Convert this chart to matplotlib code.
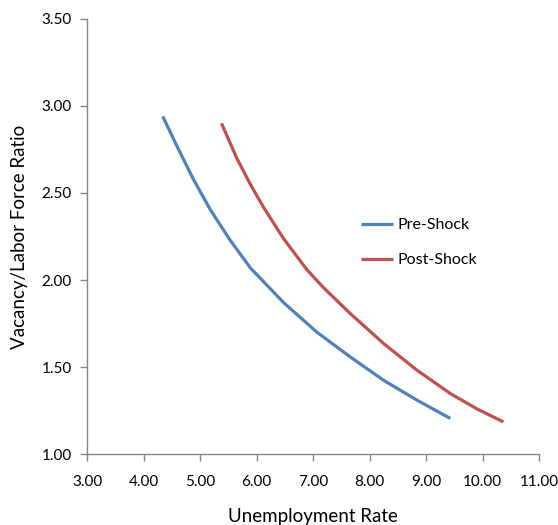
import matplotlib.pyplot as plt

# Beveridge curves
pre_u = [4.34, 4.59, 4.88, 5.18, 5.53, 5.89, 6.48, 7.07, 7.66, 8.25, 8.84, 9.43]
pre_v = [2.94, 2.77, 2.58, 2.405, 2.23, 2.07, 1.87, 1.70, 1.558, 1.424, 1.31, 1.205]

post_u = [5.38, 5.65, 5.89, 6.12, 6.48, 6.89, 7.18, 7.66, 8.25, 8.84, 9.43, 9.90, 10.37]
post_v = [2.90, 2.70, 2.55, 2.42, 2.237, 2.06, 1.958, 1.807, 1.635, 1.482, 1.348, 1.26, 1.185]

x_ticks = [3, 4, 5, 6, 7, 8, 9, 10, 11]
y_ticks = [1.0, 1.5, 2.0, 2.5, 3.0, 3.5]

plt.rcParams['font.family'] = ['Lato', 'DejaVu Sans']

fig = plt.figure(figsize=(5.58, 5.25), dpi=100)
ax = fig.add_axes([0.156, 0.135, 0.81, 0.829])

ax.plot(pre_u, pre_v, color='#4F81BD', lw=2.3, solid_capstyle='butt', solid_joinstyle='round', label='Pre-Shock')
ax.plot(post_u, post_v, color='#C0504D', lw=2.3, solid_capstyle='butt', solid_joinstyle='round', label='Post-Shock')

ax.set_xlim(3, 11)
ax.set_ylim(1, 3.5)
ax.set_xticks(x_ticks)
ax.set_yticks(y_ticks)
ax.set_xticklabels(['%.2f' % t for t in x_ticks])
ax.set_yticklabels(['%.2f' % t for t in y_ticks])

for s in ['top', 'right']:
    ax.spines[s].set_visible(False)
for s in ['left', 'bottom']:
    ax.spines[s].set_color('#868686')
    ax.spines[s].set_linewidth(1.0)
ax.tick_params(colors='#868686', labelcolor='black', labelsize=11, length=5, width=1.0)
ax.tick_params(axis='x', pad=10)
ax.tick_params(axis='y', pad=6)

ax.set_xlabel('Unemployment Rate', fontsize=13.5, labelpad=14)
ax.set_ylabel('Vacancy/Labor Force Ratio', fontsize=13.5, labelpad=10)

ax.legend(loc='upper left', bbox_to_anchor=(0.575, 0.575), frameon=False, fontsize=11.5,
          handlelength=2.0, handletextpad=0.25, labelspacing=1.3)

fig.savefig('out.png', dpi=100)
